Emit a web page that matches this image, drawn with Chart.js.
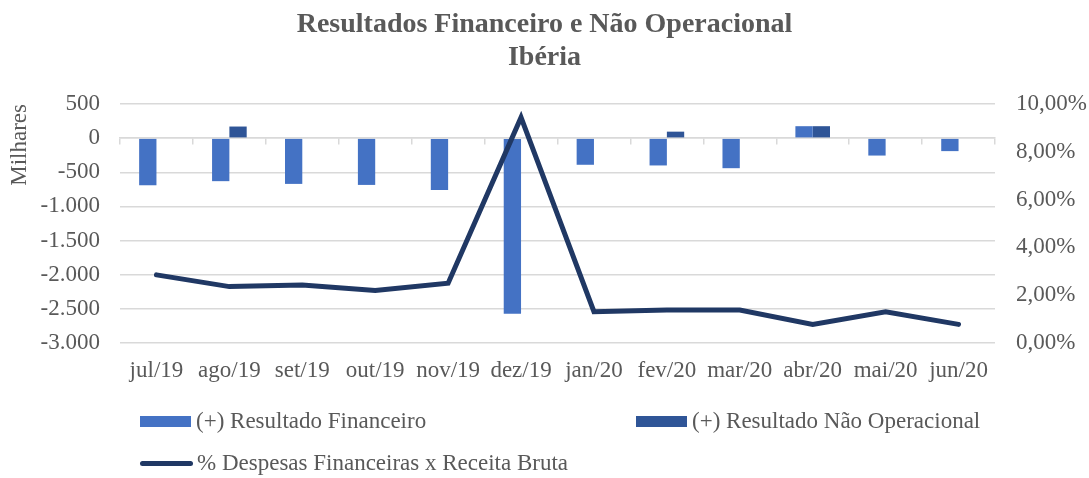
<!DOCTYPE html>
<html>
<head>
<meta charset="utf-8">
<script src="https://cdn.jsdelivr.net/npm/chart.js@4"></script>
<style>
  html, body { margin: 0; padding: 0; background: #fff; }
  #wrap { position: relative; width: 1089px; height: 478px; }
  #legenda { position: absolute; left: 0; top: 0; width: 1089px; height: 478px; pointer-events: none;
             font-family: "Liberation Serif", serif; font-size: 23px; color: #595959; }
  .item { position: absolute; display: flex; align-items: center; white-space: nowrap; height: 26px; }
  .box { width: 51px; height: 11px; margin-right: 5px; }
  .linha { width: 53px; height: 5px; border-radius: 3px; margin-right: 4px; }
</style>
</head>
<body>
<div id="wrap">
  <canvas id="grafica" width="1089" height="478"></canvas>
  <div id="legenda"></div>
</div>
<script>
const meses = ['jul/19', 'ago/19', 'set/19', 'out/19', 'nov/19', 'dez/19', 'jan/20', 'fev/20', 'mar/20', 'abr/20', 'mai/20', 'jun/20'];
const resultadoFinanceiro = [-690, -630, -670, -685, -760, -2570, -390, -400, -440, 175, -255, -190];
const resultadoNaoOperacional = [0, 170, 0, 0, 0, 0, 0, 95, 0, 175, 0, 0];
const despesasPct = [2.85, 2.36, 2.43, 2.20, 2.50, 9.44, 1.31, 1.38, 1.38, 0.78, 1.31, 0.78];

const cinza = '#595959';
const grade = '#D9D9D9';
const fonte = '"Liberation Serif", serif';

function milhar(v) {
    const s = Math.abs(v).toString().replace(/\B(?=(\d{3})+(?!\d))/g, '.');
    return (v < 0 ? '-' : '') + s;
}

function pct(v) {
    return v.toFixed(2).replace('.', ',') + '%';
}

const ctx = document.getElementById('grafica');

const chart = new Chart(ctx, {
    type: 'bar',
    data: {
        labels: meses,
        datasets: [{
            label: '(+) Resultado Financeiro',
            data: resultadoFinanceiro,
            backgroundColor: '#4472C4',
            yAxisID: 'y',
            order: 1
        }, {
            label: '(+) Resultado Não Operacional',
            data: resultadoNaoOperacional,
            backgroundColor: '#2F5597',
            yAxisID: 'y',
            order: 1
        }, {
            type: 'line',
            label: '% Despesas Financeiras x Receita Bruta',
            data: despesasPct,
            borderColor: '#203864',
            backgroundColor: '#203864',
            borderWidth: 5,
            borderCapStyle: 'round',
            tension: 0,
            pointRadius: 0,
            yAxisID: 'y1',
            order: 0
        }]
    },
    options: {
        responsive: false,
        animation: false,
        categoryPercentage: 0.475,
        barPercentage: 1,
        layout: { padding: 0 },
        plugins: {
            legend: { display: false },
            tooltip: { enabled: false },
            title: {
                display: true,
                text: ['Resultados Financeiro e Não Operacional', 'Ibéria'],
                color: cinza,
                font: { family: fonte, size: 28, weight: 'bold', lineHeight: '33px' },
                padding: { top: 8, bottom: 30 }
            }
        },
        scales: {
            x: {
                grid: { display: false, drawTicks: false },
                border: { display: false },
                ticks: { color: cinza, font: { family: fonte, size: 23 }, padding: 14, maxRotation: 0, autoSkip: false },
                afterFit: (s) => { s.height = 135; }
            },
            x2: {
                type: 'category',
                position: { y: 0 },
                grid: { drawOnChartArea: false, offset: true, tickLength: 6, color: grade, lineWidth: 1.5 },
                border: { color: grade, width: 1.5 },
                ticks: { display: false }
            },
            y: {
                position: 'left',
                min: -3000,
                max: 500,
                ticks: { stepSize: 500, color: cinza, font: { family: fonte, size: 23 }, padding: 20, callback: (v) => milhar(v) },
                grid: { color: grade, lineWidth: 1.5, drawTicks: false },
                border: { display: false },
                title: { display: true, text: 'Milhares', align: 'end', color: cinza, font: { family: fonte, size: 23 }, padding: { top: 6, bottom: 0 } },
                afterFit: (s) => { s.width = 120; }
            },
            y1: {
                position: 'right',
                min: 0,
                max: 10,
                ticks: { stepSize: 2, color: cinza, font: { family: fonte, size: 23 }, padding: 21, callback: (v) => pct(v) },
                grid: { display: false, drawTicks: false },
                border: { display: false },
                afterFit: (s) => { s.width = 94; }
            }
        }
    }
});

// legenda em HTML, duas colunas como no original
function montarLegenda() {
    const pos = [[140, 408], [636, 408], [140, 450]];
    const el = document.getElementById('legenda');
    chart.data.datasets.forEach((ds, i) => {
        const item = document.createElement('div');
        item.className = 'item';
        item.style.left = pos[i][0] + 'px';
        item.style.top = pos[i][1] + 'px';
        const marca = document.createElement('span');
        marca.className = ds.type === 'line' ? 'linha' : 'box';
        marca.style.background = ds.type === 'line' ? ds.borderColor : ds.backgroundColor;
        item.appendChild(marca);
        item.appendChild(document.createTextNode(ds.label));
        el.appendChild(item);
    });
}
montarLegenda();
</script>
</body>
</html>
